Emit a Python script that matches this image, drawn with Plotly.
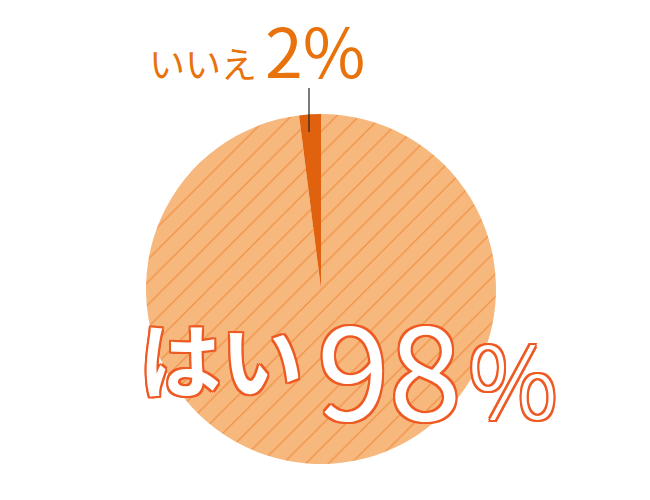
import plotly.graph_objects as go

labels = ["はい", "いいえ"]
values = [98, 2]
small_label = "いいえ"
small_pct = "2%"
big_label = "はい"
big_num = "98"

ORANGE = "#E8720C"
OUTLINE = "#EE5A24"


def outline(color, w=2):
    offs = [(-w, -w), (w, -w), (-w, w), (w, w), (0, w), (0, -w), (w, 0), (-w, 0)]
    return ", ".join(f"{dx}px {dy}px 0 {color}" for dx, dy in offs)


fig = go.Figure()
fig.add_trace(go.Pie(
    labels=labels, values=values, sort=False, direction="clockwise",
    rotation=0, textinfo="none", hoverinfo="label+percent",
    domain=dict(x=[146 / 650, 496 / 650], y=[1 - 464 / 500, 1 - 114 / 500]),
    marker=dict(
        colors=["#F7B87E", "#E0620E"],
        line=dict(width=0),
        pattern=dict(shape=["/", ""], fgcolor="#EA6C0E", bgcolor=["#F7B87E", "#E0620E"],
                     size=16, solidity=0.08, fillmode="overlay"),
    ),
    showlegend=False,
))

# small label with leader line
fig.add_annotation(x=257 / 650, y=1 - 100 / 500, xref="paper", yref="paper",
                   xanchor="center", yanchor="bottom", showarrow=False,
                   text=f"{small_label} <span style='font-size:68px'>{small_pct}</span>",
                   font=dict(family="Noto Sans CJK JP", size=36, color=ORANGE, weight=400))
fig.add_shape(type="line", xref="paper", yref="paper",
              x0=309 / 650, x1=309 / 650, y0=1 - 88 / 500, y1=1 - 132 / 500,
              line=dict(color="#222222", width=1.2))

big_font = dict(family="Noto Sans CJK JP", color="white", shadow=outline(OUTLINE))
fig.add_annotation(x=221 / 650, y=1 - 356 / 500, xref="paper", yref="paper",
                   xanchor="center", yanchor="middle", showarrow=False,
                   text=big_label, font=dict(**big_font, size=82, weight=700))
fig.add_annotation(x=389 / 650, y=1 - 363 / 500, xref="paper", yref="paper",
                   xanchor="center", yanchor="middle", showarrow=False,
                   text=big_num, font=dict(**big_font, size=130, weight=400))
fig.add_annotation(x=513 / 650, y=1 - 375 / 500, xref="paper", yref="paper",
                   xanchor="center", yanchor="middle", showarrow=False,
                   text="%", font=dict(**big_font, size=100, weight=300))

fig.update_layout(width=650, height=500, margin=dict(l=0, r=0, t=0, b=0),
                  paper_bgcolor="white", plot_bgcolor="white")
fig.write_html("out.html", config={"displayModeBar": False},
               post_script="document.body.style.margin='0';")
